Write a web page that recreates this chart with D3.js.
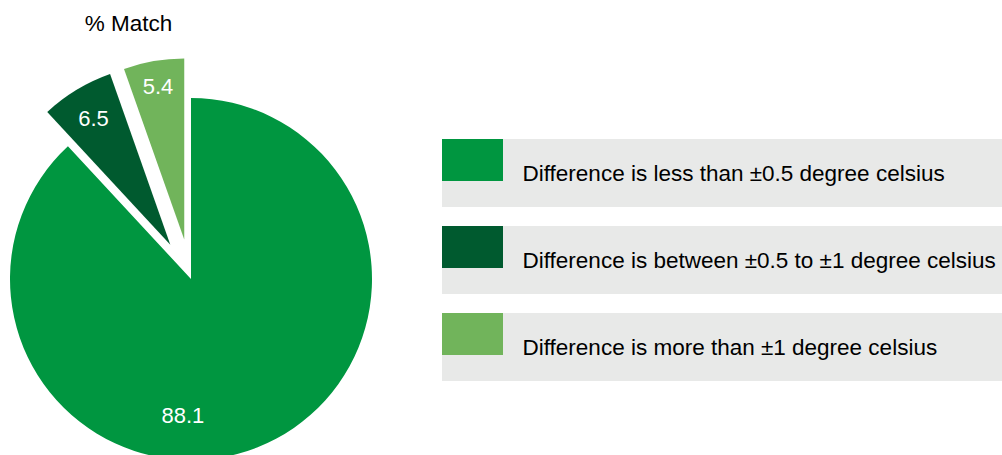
<!DOCTYPE html>
<html><head><meta charset="utf-8">
<script src="https://cdn.jsdelivr.net/npm/d3@7"></script>
<style>
html,body{margin:0;padding:0;background:#fff;}
svg{display:block;font-family:"Liberation Sans",Arial,sans-serif;}
</style></head>
<body>
<svg id="chart" width="1002" height="455"></svg>
<script>
// ---- data ----
const categories = [
  "Difference is less than \u00b10.5 degree celsius",
  "Difference is between \u00b10.5 to \u00b11 degree celsius",
  "Difference is more than \u00b11 degree celsius"
];
const values = [88.1, 6.5, 5.4];
const valueLabels = ["88.1", "6.5", "5.4"];
const title = "% Match";

// ---- style ----
const colors = ["#009640", "#005a2f", "#71b45b"];
const explode = [0, 40, 40];
const labelRadius = [0.753, 0.82, 0.86];
const labelAngleOverride = [Math.PI * 1.019, null, null];
const cx = 191, cy = 279, R = 181;

const svg = d3.select("#chart");

svg.append("text")
  .attr("x", 128.5).attr("y", 31)
  .attr("text-anchor", "middle")
  .attr("font-size", 22.5).attr("fill", "#000")
  .text(title);

const pie = d3.pie().sort(null).value(d => d);
const arcs = pie(values);
const arc = d3.arc().innerRadius(0).outerRadius(R);

const g = svg.append("g").attr("transform", `translate(${cx},${cy})`);

arcs.forEach((a, i) => {
  const mid = (a.startAngle + a.endAngle) / 2;
  const dx = Math.sin(mid) * explode[i], dy = -Math.cos(mid) * explode[i];
  const sg = g.append("g").attr("transform", `translate(${dx},${dy})`);
  sg.append("path").attr("d", arc(a)).attr("fill", colors[i]);
  const la = labelAngleOverride[i] != null ? labelAngleOverride[i] : mid;
  const lr = labelRadius[i] * R;
  sg.append("text")
    .attr("x", Math.sin(la) * lr)
    .attr("y", -Math.cos(la) * lr)
    .attr("dy", "0.36em")
    .attr("text-anchor", "middle")
    .attr("font-size", 22).attr("fill", "#fff")
    .text(valueLabels[i]);
});

// ---- legend ----
const legendY = d3.scaleBand().domain(d3.range(categories.length)).range([139, 139 + 87 * 3]).paddingInner(0).paddingOuter(0);
const lg = svg.append("g");
categories.forEach((c, i) => {
  const y0 = legendY(i);
  lg.append("rect").attr("x", 442).attr("y", y0).attr("width", 1002 - 442).attr("height", 68).attr("fill", "#e8e9e8");
  lg.append("rect").attr("x", 442).attr("y", y0).attr("width", 61).attr("height", 42).attr("fill", colors[i]);
  lg.append("text").attr("x", 522.5).attr("y", y0 + 42).attr("font-size", 22.5).attr("fill", "#000").text(c);
});
</script>
</body></html>
